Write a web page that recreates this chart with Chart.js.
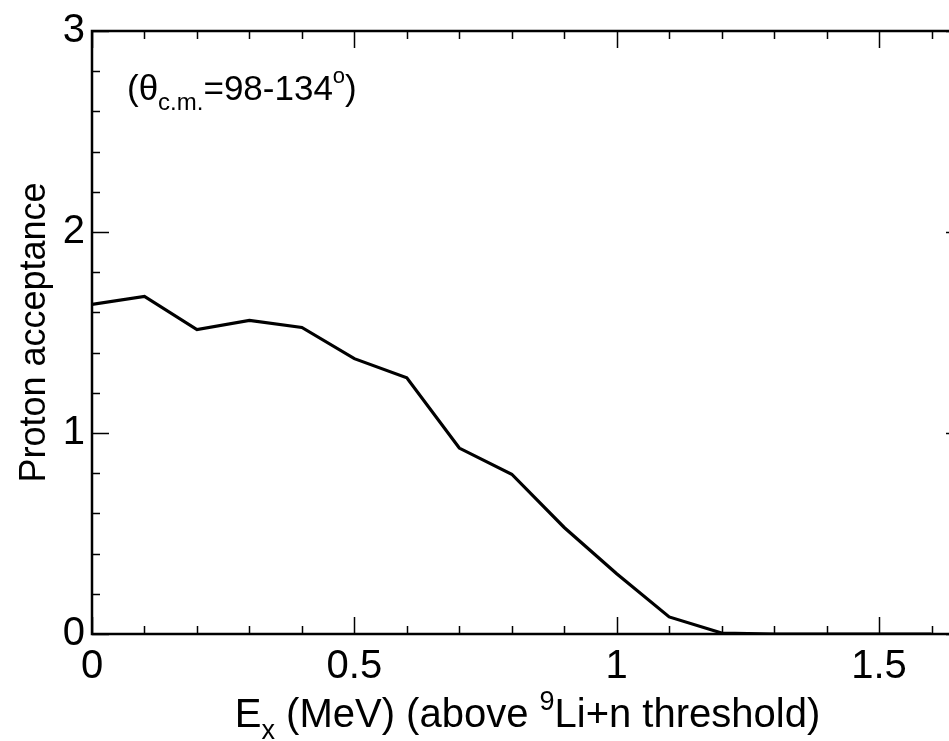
<!DOCTYPE html>
<html lang="en">
<head>
<meta charset="UTF-8">
<title>Proton acceptance</title>
<style>
    html, body {
        margin: 0;
        padding: 0;
        background: #fff;
        overflow: hidden;
    }
    #wrap {
        width: 949px;
        height: 741px;
        overflow: hidden;
    }
</style>
</head>
<body>
<div id="wrap"><canvas id="acc" width="980" height="741"></canvas></div>

<script src="https://cdn.jsdelivr.net/npm/chart.js"></script>
<script>
// excitation energy above the 9Li+n threshold (MeV)
const energies = [0, 0.1, 0.2, 0.3, 0.4, 0.5, 0.6, 0.7, 0.8, 0.9, 1.0, 1.1, 1.2, 1.3, 1.4, 1.5, 1.6];
// proton acceptance for theta c.m. = 98-134 deg
const acceptance = [1.64, 1.68, 1.515, 1.56, 1.525, 1.37, 1.275, 0.925, 0.795, 0.53, 0.30, 0.085, 0.005, 0, 0, 0, 0];

const xTickLabels = [0, 0.5, 1, 1.5];
const yTickLabels = [0, 1, 2, 3];

const FONT = '"Liberation Sans", Arial, sans-serif';

// draw a run of text pieces with their own size and vertical shift
function richText(ctx, parts, x, y, align) {
    let total = 0;
    parts.forEach(p => {
        ctx.font = p.size + 'px ' + FONT;
        p.w = ctx.measureText(p.t).width;
        total += p.w;
    });
    let cx = align === 'center' ? x - total / 2 : x;
    ctx.textAlign = 'left';
    ctx.textBaseline = 'alphabetic';
    parts.forEach(p => {
        ctx.font = p.size + 'px ' + FONT;
        ctx.fillText(p.t, cx, y + (p.dy || 0));
        cx += p.w;
    });
}

const round2 = v => Math.round(v * 100) / 100;

const framePlugin = {
    id: 'frame',
    afterDraw(chart) {
        const ctx = chart.ctx;
        const xs = chart.scales.x, ys = chart.scales.y;
        const a = chart.chartArea;
        ctx.save();
        ctx.strokeStyle = '#000';
        ctx.fillStyle = '#000';

        // inward ticks on all four sides
        ctx.lineWidth = 1.5;
        ctx.beginPath();
        for (let i = 0; i / 10 <= xs.max + 1e-9; i++) {
            const px = Math.round(xs.getPixelForValue(i / 10)) + 0.5;
            const len = i % 5 === 0 ? 17 : 8;
            ctx.moveTo(px, a.bottom); ctx.lineTo(px, a.bottom - len);
            ctx.moveTo(px, a.top); ctx.lineTo(px, a.top + len);
        }
        for (let i = 0; i / 5 <= ys.max + 1e-9; i++) {
            const py = Math.round(ys.getPixelForValue(i / 5)) + 0.5;
            const len = i % 5 === 0 ? 17 : 8;
            ctx.moveTo(a.left, py); ctx.lineTo(a.left + len, py);
            ctx.moveTo(a.right, py); ctx.lineTo(a.right - len, py);
        }
        ctx.stroke();

        // box
        ctx.lineWidth = 2.5;
        ctx.strokeRect(a.left, a.top, a.right - a.left, a.bottom - a.top);

        // y axis title
        ctx.save();
        ctx.translate(45, (a.top + a.bottom) / 2);
        ctx.rotate(-Math.PI / 2);
        ctx.font = '36px ' + FONT;
        ctx.textAlign = 'center';
        ctx.textBaseline = 'alphabetic';
        ctx.fillText('Proton acceptance', 0, 0);
        ctx.restore();

        // x axis title
        richText(ctx, [
            { t: 'E', size: 40 },
            { t: 'x', size: 27, dy: 12 },
            { t: ' (MeV) (above ', size: 40 },
            { t: '9', size: 27, dy: -17 },
            { t: 'Li+n threshold)', size: 40 }
        ], (a.left + a.right) / 2, 727, 'center');

        // angular range label
        richText(ctx, [
            { t: '(\u03B8', size: 35 },
            { t: 'c.m.', size: 24, dy: 10 },
            { t: '=98-134', size: 35 },
            { t: 'o', size: 22, dy: -17 },
            { t: ')', size: 35 }
        ], 127, 100, 'left');

        ctx.restore();
    }
};

new Chart(document.getElementById('acc'), {
    type: 'line',
    data: {
        datasets: [{
            data: energies.map((e, i) => ({ x: e, y: acceptance[i] })),
            borderColor: '#000',
            borderWidth: 3.2,
            pointRadius: 0,
            tension: 0,
            fill: false
        }]
    },
    options: {
        responsive: false,
        animation: false,
        layout: { padding: { top: 26, right: 17, left: 0, bottom: 0 } },
        plugins: {
            legend: { display: false },
            tooltip: { enabled: false }
        },
        scales: {
            x: {
                type: 'linear',
                min: 0,
                max: 1.66,
                afterFit(s) { s.height = 107; },
                grid: { display: false, drawTicks: false, tickLength: 0 },
                border: { display: false },
                ticks: {
                    stepSize: 0.1,
                    autoSkip: false,
                    maxRotation: 0,
                    padding: 9,
                    color: '#000',
                    font: { family: FONT, size: 40 },
                    callback: v => xTickLabels.includes(round2(v)) ? String(round2(v)) : ''
                }
            },
            y: {
                min: 0,
                max: 3,
                afterFit(s) { s.width = 92; },
                grid: { display: false, drawTicks: false, tickLength: 0 },
                border: { display: false },
                ticks: {
                    stepSize: 1,
                    padding: 7,
                    color: '#000',
                    font: { family: FONT, size: 40 },
                    callback: v => yTickLabels.includes(v) ? String(v) : ''
                }
            }
        }
    },
    plugins: [framePlugin]
});
</script>
</body>
</html>
